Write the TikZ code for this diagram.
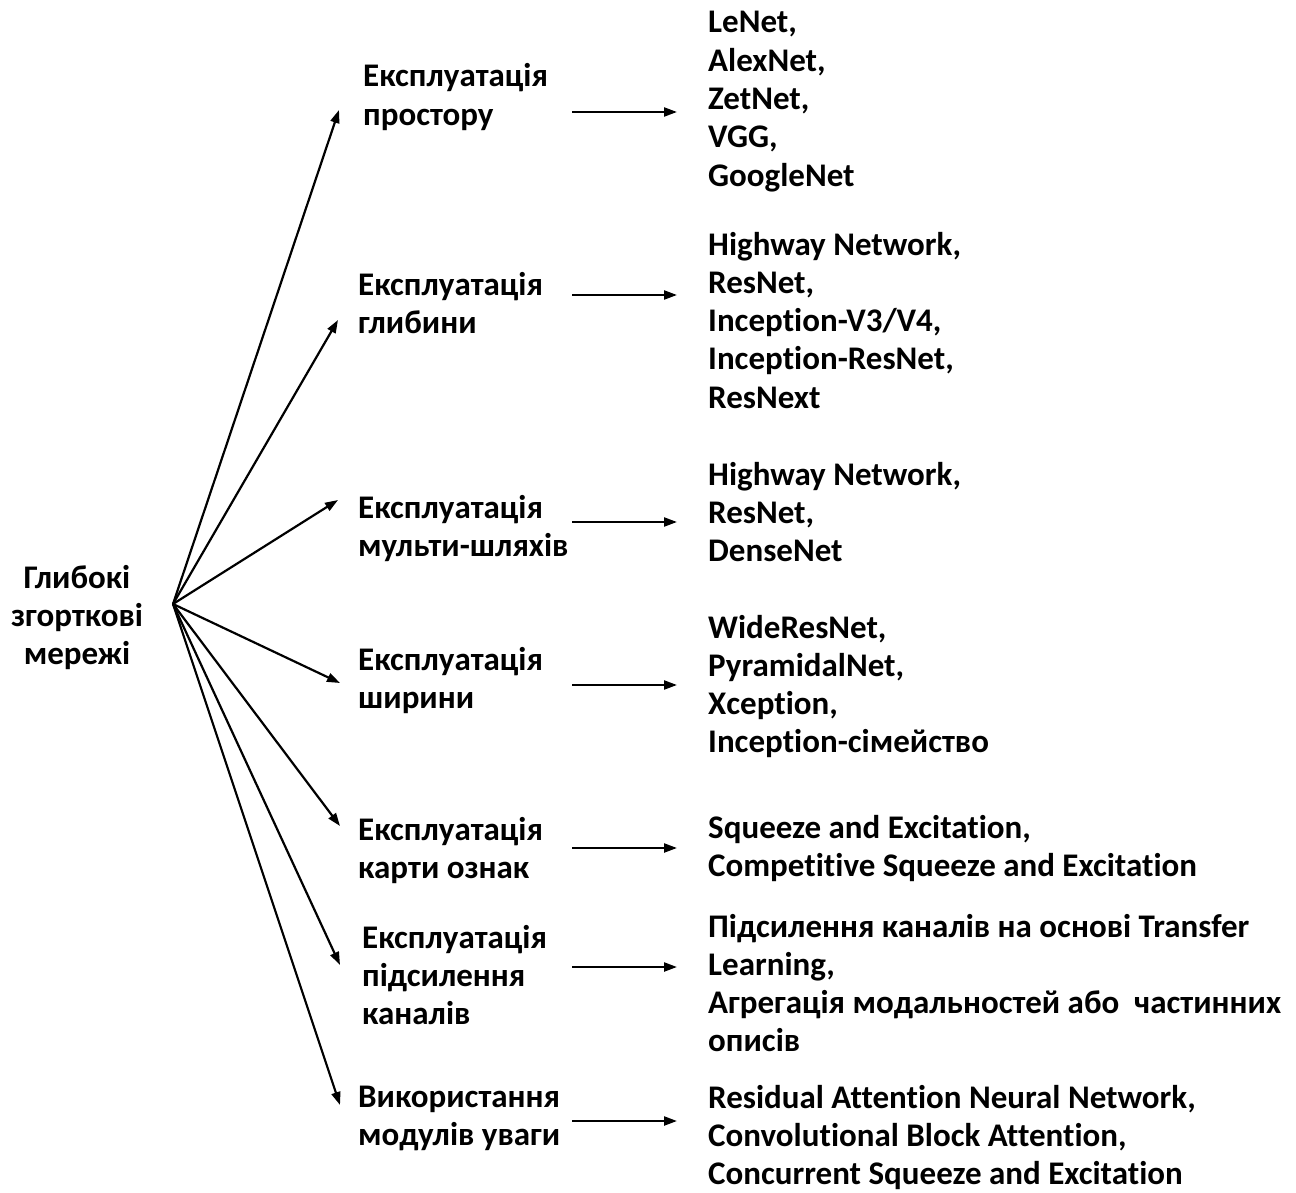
\documentclass[tikz,border=0pt]{standalone}
\usepackage{fontspec}
\setmainfont[Ligatures=NoCommon]{Carlito}
\usetikzlibrary{arrows.meta}
\begin{document}
\begin{tikzpicture}[x=1pt,y=-1pt,
  lbl/.style={anchor=base west,align=left,inner sep=0pt,font=\fontsize{33}{38.3}\selectfont\bfseries},
  rootlbl/.style={anchor=base,align=center,inner sep=0pt,font=\fontsize{33}{38.3}\selectfont\bfseries},
  arr/.style={line width=2.2pt,-{Triangle[length=13pt,width=9pt]}}]
\useasboundingbox (0,0) rectangle (1296,1193);
% root (anchor = baseline of last line)
\node[rootlbl] (root) at (77,664.6) {Глибокі\\згорткові\\мережі};
\coordinate (fan) at (173,604);
% middle labels
\node[lbl] (m1) at (363,125.3) {Експлуатація\\простору};
\node[lbl] (m2) at (358,333.3) {Експлуатація\\глибини};
\node[lbl] (m3) at (358,556.3) {Експлуатація\\мульти-шляхів};
\node[lbl] (m4) at (358,708.3) {Експлуатація\\ширини};
\node[lbl] (m5) at (358,878.3) {Експлуатація\\карти ознак};
\node[lbl] (m6) at (362,1024.6) {Експлуатація\\підсилення\\каналів};
\node[lbl] (m7) at (358,1145.3) {Використання\\модулів уваги};
% right lists
\node[lbl] (r1) at (708,186.2) {LeNet,\\AlexNet,\\ZetNet,\\VGG,\\GoogleNet};
\node[lbl] (r2) at (708,408.2) {Highway Network,\\ResNet,\\Inception-V3/V4,\\Inception-ResNet,\\ResNext};
\node[lbl] (r3) at (708,561.6) {Highway Network,\\ResNet,\\DenseNet};
\node[lbl] (r4) at (708,752.9) {WideResNet,\\PyramidalNet,\\Xception,\\Inception-сімейство};
\node[lbl] (r5) at (708,876.3) {Squeeze and Excitation,\\Competitive Squeeze and Excitation};
\node[lbl] (r6) at (708,1051.9) {Підсилення каналів на основі Transfer\\Learning,\\Агрегація модальностей або\ \ частинних\\описів};
\node[lbl] (r7) at (708,1184.6) {Residual Attention Neural Network,\\Convolutional Block Attention,\\Concurrent Squeeze and Excitation};
% fan tips
\coordinate (t1) at (339,110);
\coordinate (t2) at (338,320);
\coordinate (t3) at (338,500);
\coordinate (t4) at (340,683);
\coordinate (t5) at (340,826);
\coordinate (t6) at (340,965);
\coordinate (t7) at (340,1105);
\foreach \i in {1,...,7} \draw[arr] (fan) -- (t\i);
% horizontal arrows
\foreach \i/\y in {1/112,2/295,3/522,4/685,5/848,6/967,7/1121}{
  \coordinate (hs\i) at (572,\y);
  \coordinate (he\i) at (677,\y);
  \draw[arr] (hs\i) -- (he\i);
}
\end{tikzpicture}
\end{document}
